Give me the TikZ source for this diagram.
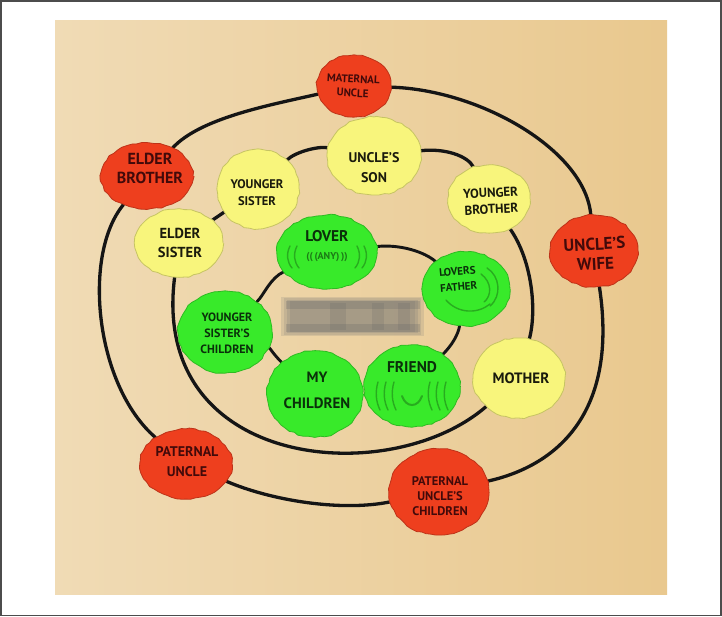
\documentclass[tikz,border=0pt]{standalone}
\usepackage{fontspec}
\setmainfont{PT Sans}
\usetikzlibrary{shapes.geometric,decorations.pathmorphing}
\definecolor{paperA}{HTML}{F0DBB5}
\definecolor{paperM}{HTML}{EFD7AE}
\definecolor{paperB}{HTML}{E9C88E}
\definecolor{nodered}{HTML}{EE3F1E}
\definecolor{nodeyel}{HTML}{F8F57C}
\definecolor{nodegrn}{HTML}{38EA2A}
\definecolor{scrib}{HTML}{1C7A16}
\definecolor{ringc}{HTML}{151515}
\definecolor{redtxt}{HTML}{420A0A}
\definecolor{yeltxt}{HTML}{1A1A0C}
\definecolor{grntxt}{HTML}{0A300A}
\pgfdeclarelayer{paper}
\pgfdeclarelayer{lines}
\pgfsetlayers{paper,lines,main}
\tikzset{
  blob/.style={ellipse, inner sep=0pt, line width=0.8pt,
    decorate, decoration={random steps, segment length=5pt, amplitude=0.8pt}},
  redb/.style={blob, fill=nodered, draw=nodered!80!black},
  yelb/.style={blob, fill=nodeyel, draw=nodeyel!80!black},
  grnb/.style={blob, fill=nodegrn, draw=nodegrn!80!black},
  txt/.style 2 args={align=center, inner sep=0pt, font=\fontsize{#1}{#2}\selectfont\bfseries},
  ring/.style={draw=ringc, line width=3.3pt, line cap=round},
  iring/.style={ring, line width=2.9pt},
  scribble/.style={draw=scrib, line width=1.4pt, opacity=0.55, line cap=round}
}
\begin{document}
\begin{tikzpicture}[x=1pt,y=1pt]
\pgfmathsetseed{11}
\useasboundingbox (0,0) rectangle (722,-617);
\begin{pgfonlayer}{paper}
  \fill[white] (0,0) rectangle (722,-617);
  \shade[left color=paperA, middle color=paperM, right color=paperB] (55,-21) rectangle (667,-594);
  \draw[line width=1.6pt, draw=black!70] (0.8,-0.8) rectangle (721.2,-615.4);
  % blurred name
  \foreach \d/\o in {0/0.18,3/0.18,6/0.2,9/0.2}{
    \fill[black!55, opacity=\o] (281+\d,-297-\d/2) rectangle (424-\d,-336+\d/2);}
  \fill[black!60, opacity=0.25] (286,-301) rectangle (420,-309);
  \fill[black!60, opacity=0.25] (286,-324) rectangle (420,-332);
  \fill[black!60, opacity=0.2] (330,-303) rectangle (346,-330);
  \fill[black!60, opacity=0.2] (372,-303) rectangle (384,-330);
  \fill[black!60, opacity=0.2] (398,-303) rectangle (410,-330);
\end{pgfonlayer}

% outer ring (red)
\node[redb, minimum width=74, minimum height=62] (MU) at (354,-86) {};
\node[redb, minimum width=92, minimum height=66] (EB) at (147,-176) {};
\node[redb, minimum width=88, minimum height=72] (UW) at (594,-251) {};
\node[redb, minimum width=92, minimum height=70] (PU) at (186,-464) {};
\node[redb, minimum width=100, minimum height=86] (PUC) at (439,-492) {};
% middle ring (yellow)
\node[yelb, minimum width=94, minimum height=78] (US) at (374,-156) {};
\node[yelb, minimum width=82, minimum height=80] (YS) at (258,-189) {};
\node[yelb, minimum width=88, minimum height=68] (ES) at (179,-243) {};
\node[yelb, minimum width=82, minimum height=68] (YB) at (489,-199) {};
\node[yelb, minimum width=92, minimum height=80] (MO) at (519,-378) {};
% inner ring (green)
\node[grnb, minimum width=100, minimum height=74] (LO) at (327,-252) {};
\node[grnb, minimum width=88, minimum height=74] (LF) at (466,-289) {};
\node[grnb, minimum width=94, minimum height=82] (YSC) at (225,-332) {};
\node[grnb, minimum width=96, minimum height=86] (MC) at (315,-394) {};
\node[grnb, minimum width=96, minimum height=82] (FR) at (412,-386) {};

% scribbles inside green blobs
\draw[scribble] (290,-246) .. controls (286,-254) and (287,-262) .. (292,-268);
\draw[scribble] (297,-246) .. controls (293,-254) and (294,-262) .. (299,-268);
\draw[scribble] (357,-246) .. controls (361,-254) and (360,-262) .. (355,-268);
\draw[scribble] (364,-246) .. controls (368,-254) and (367,-262) .. (362,-268);
\foreach \x in {378,386,394,430,438,446}{
  \draw[scribble] (\x,-382) .. controls (\x-3,-392) and (\x-2,-402) .. (\x+2,-410);}
\draw[scribble, line width=2pt] (402,-396) .. controls (406,-408) and (418,-408) .. (422,-396);
\draw[scribble] (487,-268) .. controls (500,-276) and (502,-296) .. (490,-306);
\draw[scribble] (481,-274) .. controls (492,-282) and (492,-296) .. (484,-302);
\draw[scribble] (446,-300) .. controls (458,-314) and (478,-314) .. (490,-304);

% rings
\begin{pgfonlayer}{lines}
  \draw[ring] (MU) .. controls (480,-90) and (585,-150) .. (UW);
  \draw[ring] (UW) .. controls (618,-410) and (560,-465) .. (PUC);
  \draw[ring] (PUC) .. controls (340,-512) and (270,-500) .. (PU);
  \draw[ring] (PU) .. controls (95,-385) and (82,-255) .. (EB);
  \draw[ring] (EB) .. controls (200,-118) and (270,-105) .. (MU);
  \draw[ring] (US) .. controls (445,-148) and (468,-156) .. (YB);
  \draw[ring] (YB) .. controls (532,-260) and (537,-310) .. (MO);
  \draw[ring] (MO) .. controls (390,-490) and (150,-470) .. (ES);
  \draw[ring] (ES) -- (YS);
  \draw[ring] (YS) .. controls (295,-152) and (318,-146) .. (US);
  \draw[iring] (LO) .. controls (400,-244) and (425,-252) .. (LF);
  \draw[iring] (LF) .. controls (458,-335) and (452,-345) .. (FR);
  \draw[iring] (MC) .. controls (274,-355) and (270,-348) .. (YSC);
  \draw[iring] (YSC) .. controls (264,-295) and (270,-278) .. (LO);
\end{pgfonlayer}

% texts
\node[txt={11}{14}, text=redtxt, rotate=-3] (MUt) at (353,-86) {MATERNAL\\UNCLE};
\node[txt={16}{19}, text=redtxt] (EBt) at (150,-168) {ELDER\\BROTHER};
\node[txt={17}{20}, text=redtxt, rotate=3] (UWt) at (595,-254) {UNCLE'S\\WIFE};
\node[txt={14}{20}, text=redtxt] (PUt) at (187,-462) {PATERNAL\\UNCLE};
\node[txt={12.5}{15}, text=redtxt] (PUCt) at (440,-496) {PATERNAL\\UNCLE'S\\CHILDREN};
\node[txt={14}{20}, text=yeltxt] (USt) at (374,-168) {UNCLE'S\\SON};
\node[txt={12.5}{17}, text=yeltxt] (YSt) at (257,-193) {YOUNGER\\SISTER};
\node[txt={14.5}{19}, text=yeltxt] (ESt) at (180,-243) {ELDER\\SISTER};
\node[txt={13}{16.5}, text=yeltxt, rotate=3] (YBt) at (491,-201) {YOUNGER\\BROTHER};
\node[txt={15}{18}, text=yeltxt] (MOt) at (521,-378) {MOTHER};
\node[txt={15.5}{18}, text=grntxt] (LOt) at (327,-236) {LOVER};
\node[txt={10}{12}, text=scrib] (LOa) at (327,-257) {((\,(ANY)\,))};
\node[txt={11}{15.5}, text=grntxt, rotate=5] (LFt) at (458,-279) {LOVERS\\FATHER};
\node[txt={12}{16}, text=grntxt] (YSCt) at (227,-333) {YOUNGER\\SISTER'S\\CHILDREN};
\node[txt={15}{26}, text=grntxt] (MCt) at (317,-390) {MY\\CHILDREN};
\node[txt={15.5}{18}, text=grntxt] (FRt) at (412,-367) {FRIEND};
\end{tikzpicture}
\end{document}
